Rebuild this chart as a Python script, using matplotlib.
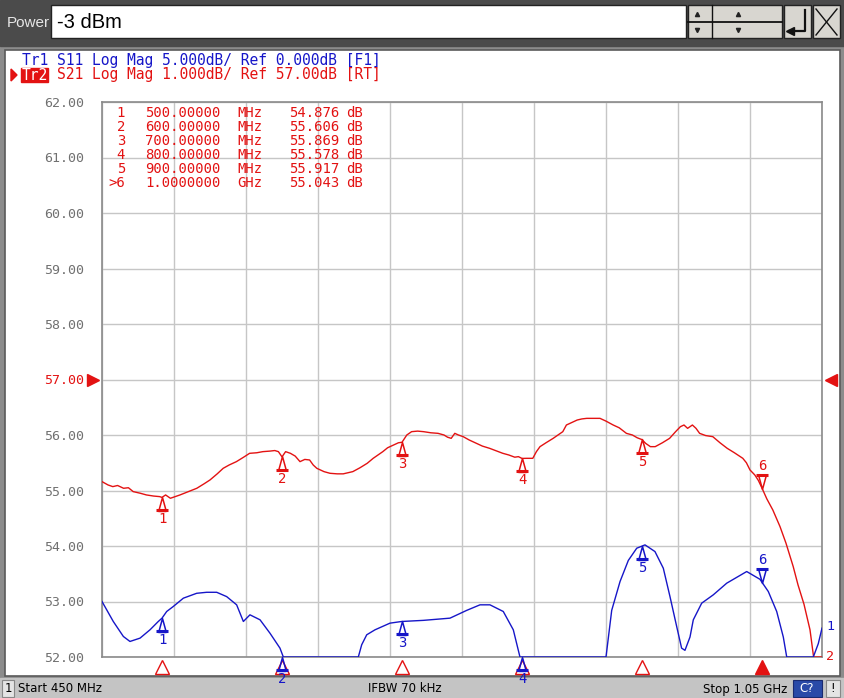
import numpy as np
import matplotlib
matplotlib.use("Agg")
import matplotlib.pyplot as plt
from matplotlib.patches import Rectangle, Polygon
from matplotlib.path import Path
from matplotlib.transforms import offset_copy, blended_transform_factory

# ---- sweep settings ----
start_mhz, stop_mhz = 450, 1050
ref_s21, scale_s21 = 57.0, 1.0      # Tr2: 1 dB/div, ref 57 dB
ref_s11, scale_s11 = 0.0, 5.0       # Tr1: 5 dB/div, ref 0 dB
n_div = 10
ref_pos = 5                          # reference line sits 5 divisions up

# ---- Tr2 S21 log mag (MHz, dB) ----
s21_freq = [450, 455, 459, 463, 468, 472, 476, 482, 487, 493, 498, 500, 503, 507, 511,
            515, 522, 529, 535, 540, 546, 551, 556, 562, 568, 573, 579, 584, 590, 594,
            597, 600, 603, 607, 611, 615, 619, 623, 626, 629, 635, 640, 646, 651, 655,
            659, 665, 671, 676, 680, 684, 688, 693, 697, 700, 704, 708, 713, 718, 724,
            730, 735, 738, 741, 744, 747, 751, 756, 762, 767, 773, 778, 784, 789, 794,
            797, 800, 804, 809, 812, 815, 820, 826, 830, 834, 837, 841, 846, 850, 854,
            860, 865, 870, 876, 881, 887, 892, 896, 900, 903, 907, 911, 917, 923, 928,
            932, 935, 938, 942, 945, 948, 953, 959, 965, 971, 977, 984, 987, 990, 994,
            997, 1000, 1004, 1009, 1015, 1020, 1026, 1030, 1035, 1040, 1043, 1046, 1050]
s21_db = [55.16, 55.10, 55.07, 55.09, 55.04, 55.05, 54.98, 54.95, 54.92, 54.90, 54.89,
          54.876, 54.92, 54.86, 54.89, 54.92, 54.98, 55.04, 55.12, 55.19, 55.30, 55.40,
          55.46, 55.52, 55.60, 55.67, 55.68, 55.70, 55.71, 55.72, 55.70, 55.606, 55.70,
          55.67, 55.62, 55.52, 55.56, 55.55, 55.46, 55.40, 55.34, 55.31, 55.30, 55.30,
          55.32, 55.34, 55.41, 55.49, 55.58, 55.64, 55.70, 55.77, 55.82, 55.86, 55.869,
          56.00, 56.06, 56.07, 56.06, 56.04, 56.03, 56.00, 55.96, 55.94, 56.03, 56.00,
          55.97, 55.91, 55.85, 55.80, 55.76, 55.72, 55.67, 55.64, 55.60, 55.61, 55.578,
          55.58, 55.58, 55.70, 55.79, 55.86, 55.94, 56.00, 56.06, 56.18, 56.22, 56.27,
          56.29, 56.30, 56.30, 56.30, 56.25, 56.18, 56.13, 56.03, 56.00, 55.95, 55.917,
          55.85, 55.79, 55.79, 55.86, 55.94, 56.06, 56.15, 56.18, 56.12, 56.18, 56.12,
          56.03, 55.99, 55.97, 55.86, 55.76, 55.68, 55.58, 55.50, 55.37, 55.28, 55.18,
          55.043, 54.85, 54.65, 54.35, 54.05, 53.63, 53.30, 52.95, 52.49, 52.00, 51.85,
          51.80]

# ---- Tr1 S11 log mag (MHz, dB) ----
s11_freq = [450, 459.4, 467.8, 473.3, 481.7, 490, 496.9, 500, 503.9, 509.4, 517.8, 528.9,
            537.2, 545.6, 553.9, 562.2, 567.8, 573.3, 581.7, 590, 598.3, 601.1, 630, 663.6,
            666.4, 670.6, 677.5, 690, 699.75, 717.75, 740, 753.9, 765, 773.3, 784.4,
            792.75, 798.3, 830, 870, 874.75, 881.7, 888.6, 895.6, 902.5, 910.8, 917.75,
            923.3, 929, 933, 935.8, 940, 942.75, 949.75, 959.4, 970.6, 987.25, 998.3,
            1005.25, 1012.25, 1017.75, 1020.6, 1030, 1042.75, 1046.9, 1050]
s11_db = [-20.0, -21.8, -23.15, -23.6, -23.3, -22.55, -21.8, -21.5, -20.9, -20.45, -19.7,
          -19.26, -19.17, -19.17, -19.56, -20.3, -21.8, -21.2, -21.65, -22.86, -24.2,
          -25.6, -27.0, -25.8, -23.9, -23.0, -22.55, -21.95, -21.8, -21.7, -21.5, -20.8,
          -20.3, -20.3, -20.9, -22.55, -25.6, -28.0, -25.6, -20.8, -18.2, -16.3, -15.2,
          -14.9, -15.5, -17.0, -19.55, -22.3, -24.2, -24.4, -23.2, -21.65, -20.15, -19.4,
          -18.35, -17.3, -18.0, -19.1, -20.9, -23.2, -25.6, -27.0, -25.6, -23.8, -22.4]

# ---- markers ----
marker_num = [1, 2, 3, 4, 5, 6]
marker_freq = [500, 600, 700, 800, 900, 1000]
marker_s21 = [54.876, 55.606, 55.869, 55.578, 55.917, 55.043]
active_marker = 6

RED = "#e31212"
BLUE = "#1616c8"
GRID = "#c6c6c6"
FRAME = "#8a8a8a"
MONO = "DejaVu Sans Mono"

W, H = 845, 698
fig = plt.figure(figsize=(W / 100, H / 100), dpi=100)
fig.patch.set_facecolor("#8c8c8c")

# instrument chrome drawn in pixel coordinates
ui = fig.add_axes([0, 0, 1, 1])
ui.set_xlim(0, W)
ui.set_ylim(H, 0)
ui.axis("off")

ui.add_patch(Rectangle((0, 0), W, 46, color="#4b4b4b", zorder=1))
ui.text(7, 23, "Power", color="#e6e6e6", fontsize=11, va="center", ha="left",
        family="Liberation Sans", zorder=3)
ui.add_patch(Rectangle((51, 5), 635, 33, facecolor="white", edgecolor="#222222", lw=1, zorder=2))
ui.text(57, 22, "-3 dBm", color="black", fontsize=14.5, va="center", ha="left",
        family="Liberation Sans", zorder=3)
# spin / enter / cancel buttons
ui.add_patch(Rectangle((688, 5), 94, 33, facecolor="#d8d6d0", edgecolor="#222222", lw=1, zorder=2))
ui.plot([688, 782], [21.5, 21.5], color="#111111", lw=1.3, zorder=3)
ui.plot([712, 712], [5, 38], color="#111111", lw=1, zorder=3)
for xa in (697, 738):
    ui.plot(xa, 14, marker="^", ms=3, color="#222222", zorder=4)
    ui.plot(xa, 30, marker="v", ms=3, color="#222222", zorder=4)
ui.add_patch(Rectangle((784, 5), 27, 33, facecolor="#d8d6d0", edgecolor="#222222", lw=1, zorder=2))
ui.plot([805, 805, 789], [10, 31, 31], color="#111111", lw=1.6, zorder=3)
ui.plot(790, 31, marker="<", ms=6, color="#111111", zorder=4)
ui.add_patch(Rectangle((813, 5), 27, 33, facecolor="#d8d6d0", edgecolor="#222222", lw=1, zorder=2))
ui.plot([816, 837], [9, 35], color="#111111", lw=1, zorder=3)
ui.plot([816, 837], [35, 9], color="#111111", lw=1, zorder=3)

# white channel window
ui.add_patch(Rectangle((5, 50), 835, 626, facecolor="white", edgecolor="#5a5a5a", lw=1.2, zorder=1))

# status bar
ui.add_patch(Rectangle((0, 678), W, 20, color="#c4c4c4", zorder=1))
ui.add_patch(Rectangle((2, 680), 12, 17, facecolor="#e4e4e4", edgecolor="#888888", lw=0.8, zorder=2))
ui.text(8, 689, "1", fontsize=8.5, ha="center", va="center", zorder=3)
ui.text(18, 689, "Start 450 MHz", fontsize=8.5, ha="left", va="center", zorder=3)
ui.text(405, 689, "IFBW 70 kHz", fontsize=8.5, ha="center", va="center", zorder=3)
ui.text(787, 689, "Stop 1.05 GHz", fontsize=8.5, ha="right", va="center", zorder=3)
ui.add_patch(Rectangle((793, 680), 29, 17, facecolor="#2a4aa8", edgecolor="#1a2a70", lw=0.8, zorder=2))
ui.text(807, 689, "C?", fontsize=8.5, ha="center", va="center", color="white", zorder=3)
ui.add_patch(Rectangle((826, 680), 14, 17, facecolor="#e4e4e4", edgecolor="#888888", lw=0.8, zorder=2))
ui.text(833, 689, "!", fontsize=8.5, ha="center", va="center", zorder=3)

# trace header lines
HDR = 10.5
ui.text(22, 61, "Tr1 S11 Log Mag 5.000dB/ Ref 0.000dB [F1]", family=MONO, fontsize=HDR,
        color=BLUE, ha="left", va="center", zorder=3)
ui.add_patch(Polygon([[11, 69], [11, 81], [17, 75]], closed=True, color=RED, zorder=3))
ui.add_patch(Rectangle((21, 68), 27, 14, color=RED, zorder=3))
ui.text(22, 75, "Tr2", family=MONO, fontsize=HDR, color="white", ha="left", va="center", zorder=4)
ui.text(57, 75, "S21 Log Mag 1.000dB/ Ref 57.00dB [RT]", family=MONO, fontsize=HDR,
        color=RED, ha="left", va="center", zorder=3)

# ---- graticule ----
left, right, bottom, top = 102, 822, 657, 102
ax = fig.add_axes([left / W, (H - bottom) / H, (right - left) / W, (bottom - top) / H])
ax.set_facecolor("white")
y_lo = ref_s21 - ref_pos * scale_s21
y_hi = ref_s21 + (n_div - ref_pos) * scale_s21
ax.set_xlim(start_mhz, stop_mhz)
ax.set_ylim(y_lo, y_hi)
ax.set_xticks(np.linspace(start_mhz, stop_mhz, n_div + 1))
ax.set_yticks(np.linspace(y_lo, y_hi, n_div + 1))
ax.grid(True, color=GRID, lw=1)
ax.tick_params(length=0, labelbottom=False, pad=13)
ax.set_yticklabels([f"{v:.2f}" for v in ax.get_yticks()], family=MONO, fontsize=9.5, color="#707070")
for lab, v in zip(ax.get_yticklabels(), ax.get_yticks()):
    if abs(v - ref_s21) < 1e-9:
        lab.set_color(RED)
for s in ax.spines.values():
    s.set_color(FRAME)
    s.set_linewidth(1.2)

ax2 = ax.twinx()
ax2.set_ylim(ref_s11 - ref_pos * scale_s11, ref_s11 + (n_div - ref_pos) * scale_s11)
ax2.axis("off")

# reference level arrows
tr_ref = blended_transform_factory(ax.transAxes, ax.transData)
ax.plot([-0.013], [ref_s21], marker=">", ms=9, color=RED, transform=tr_ref, clip_on=False)
ax.plot([1.013], [ref_s21], marker="<", ms=9, color=RED, transform=tr_ref, clip_on=False)

# traces (clipped to the graticule like the instrument does)
s21_disp = np.clip(s21_db, *ax.get_ylim())
s11_disp = np.clip(s11_db, *ax2.get_ylim())
ax.plot(s21_freq, s21_disp, color=RED, lw=1.0, zorder=3)
ax2.plot(s11_freq, s11_disp, color=BLUE, lw=1.0, zorder=3)

# trace number tags at right edge
ax.annotate("2", (s21_freq[-1], s21_disp[-1]), xytext=(4, 0), textcoords="offset pixels",
            color=RED, family=MONO, fontsize=9.5, va="center", ha="left", annotation_clip=False)
ax2.annotate("1", (s11_freq[-1], s11_disp[-1]), xytext=(4, 2), textcoords="offset pixels",
             color=BLUE, family=MONO, fontsize=9.5, va="center", ha="left", annotation_clip=False)

tri_up = Path([(0, 1), (-0.55, -1), (0.55, -1), (0, 1)], closed=True)
tri_dn = Path([(0, -1), (-0.55, 1), (0.55, 1), (0, -1)], closed=True)


def draw_marker(axis, f, v, color, num, active):
    lo, hi = axis.get_ylim()
    v = min(max(v, lo), hi)
    sgn = 1 if active else -1
    tri = tri_dn if active else tri_up
    tr = offset_copy(axis.transData, fig=fig, x=0, y=sgn * 6.5, units="dots")
    axis.plot(f, v, marker=tri, ms=10, mfc="none", mec=color, mew=1.1,
              transform=tr, clip_on=False, zorder=5)
    tr2 = offset_copy(axis.transData, fig=fig, x=0, y=sgn * 13, units="dots")
    axis.plot(f, v, marker="_", ms=9, mec=color, mew=2.2, transform=tr2, clip_on=False, zorder=5)
    axis.annotate(str(num), (f, v), xytext=(0, sgn * 22), textcoords="offset pixels", color=color,
                  family=MONO, fontsize=10, ha="center", va="center", annotation_clip=False)


for n, f, v in zip(marker_num, marker_freq, marker_s21):
    draw_marker(ax, f, v, RED, n, n == active_marker)
for n, f in zip(marker_num, marker_freq):
    draw_marker(ax2, f, float(np.interp(f, s11_freq, s11_db)), BLUE, n, n == active_marker)

# marker position indicators under the graticule
tr_bot = offset_copy(blended_transform_factory(ax.transData, ax.transAxes), fig=fig, x=0, y=-10, units="dots")
for n, f in zip(marker_num, marker_freq):
    filled = n == active_marker
    ax.plot(f, 0, marker="^", ms=10, mfc=RED if filled else "none", mec=RED, mew=1.0,
            transform=tr_bot, clip_on=False, zorder=6)

# marker readout table (drawn on the graticule layer, placed in window pixels)
row_y = [113, 127, 141, 155, 169, 183]
kw = dict(family=MONO, fontsize=10, color=RED, va="center", zorder=7,
          transform=ui.transData, clip_on=False)
for n, f, v, ry in zip(marker_num, marker_freq, marker_s21, row_y):
    tag = (">" if n == active_marker else "") + str(n)
    if f >= 1000:
        ftxt, unit = f"{f / 1000:.7f}", "GHz"
    else:
        ftxt, unit = f"{f:.5f}", "MHz"
    ax.text(125, ry, tag, ha="right", **kw)
    ax.text(145, ry, ftxt, ha="left", **kw)
    ax.text(237, ry, unit, ha="left", **kw)
    ax.text(289, ry, f"{v:.3f}", ha="left", **kw)
    ax.text(346, ry, "dB", ha="left", **kw)

fig.savefig("out.png", dpi=100, facecolor=fig.get_facecolor())
